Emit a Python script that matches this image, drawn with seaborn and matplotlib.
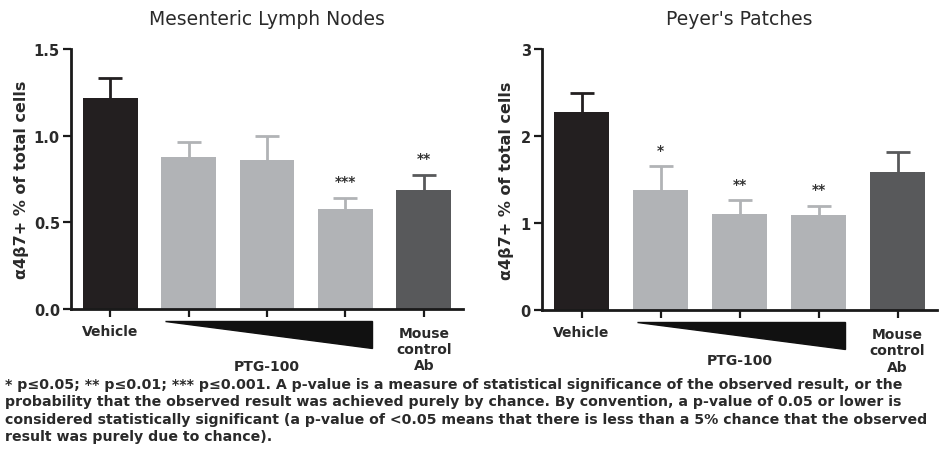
import matplotlib
matplotlib.use("Agg")
import matplotlib.pyplot as plt
import matplotlib.transforms as mt
from matplotlib.patches import Polygon
import seaborn as sns
import pandas as pd

# ---- data ----
categories = ["Vehicle", "PTG-100 low", "PTG-100 mid", "PTG-100 high", "Mouse control Ab"]
mln_mean = [1.22, 0.877, 0.857, 0.577, 0.688]
mln_err = [0.11, 0.085, 0.14, 0.065, 0.085]
pp_mean = [2.28, 1.38, 1.10, 1.09, 1.59]
pp_err = [0.21, 0.27, 0.16, 0.105, 0.23]
mln_stars = ["", "", "", "***", "**"]
pp_stars = ["", "*", "**", "**", ""]
mln_ticks = [0.0, 0.5, 1.0, 1.5]
mln_ticklabels = ["0.0", "0.5", "1.0", "1.5"]
pp_ticks = [0, 1, 2, 3]
pp_ticklabels = ["0", "1", "2", "3"]
titles = ["Mesenteric Lymph Nodes", "Peyer's Patches"]
ylabel = "α4β7+ % of total cells"
footnote = ("* p≤0.05; ** p≤0.01; *** p≤0.001. A p-value is a measure of statistical significance of the observed result, or the\n"
            "probability that the observed result was achieved purely by chance. By convention, a p-value of 0.05 or lower is\n"
            "considered statistically significant (a p-value of <0.05 means that there is less than a 5% chance that the observed\n"
            "result was purely due to chance).")

colors = ["#231f20", "#b1b3b6", "#b1b3b6", "#b1b3b6", "#58595b"]

sns.set_theme(style="ticks")
plt.rcParams["font.family"] = ["DejaVu Sans"]
TXT = "#2a2a2a"

fig = plt.figure(figsize=(9.43, 4.64), dpi=100)
ax1 = fig.add_axes([71 / 943, 1 - 310 / 464, (463 - 71) / 943, 260 / 464])
ax2 = fig.add_axes([542 / 943, 1 - 311 / 464, (937 - 542) / 943, 261 / 464])

panels = [
    (ax1, mln_mean, mln_err, mln_stars, mln_ticks, mln_ticklabels, (0, 1.5), titles[0], 22 - 71, -0.22),
    (ax2, pp_mean, pp_err, pp_stars, pp_ticks, pp_ticklabels, (0, 3), titles[1], 506 - 542, -0.19),
]

for ax, mean, err, stars, ticks, tlabels, ylim, title, ylab_dx, ptg_y in panels:
    df = pd.DataFrame({"group": categories, "value": mean})
    sns.barplot(data=df, x="group", y="value", hue="group", palette=colors,
                legend=False, width=0.7, ax=ax, saturation=1, linewidth=0, zorder=2)
    for i in range(len(categories)):
        ax.errorbar(i, mean[i], yerr=err[i], color=colors[i],
                    capsize=8.5, elinewidth=2, capthick=2, fmt="none", zorder=1)
        if stars[i]:
            ax.annotate(stars[i], xy=(i, mean[i] + err[i]), xytext=(0, 7),
                        textcoords="offset points", ha="center", va="bottom",
                        fontsize=10, fontweight="bold", color="#333333")
    ax.set_xlim(-0.5, 4.5)
    ax.set_ylim(*ylim)
    ax.set_yticks(ticks)
    ax.set_yticklabels(tlabels, fontsize=10.5, fontweight="bold", color=TXT)
    ax.set_xticks(range(len(categories)))
    ax.set_xticklabels([])
    ax.set_xlabel("")
    ax.set_ylabel("")
    ax.tick_params(axis="both", direction="out", length=6, width=1.6, color="#1a1a1a")
    ax.tick_params(axis="y", pad=2)
    for s in ["left", "bottom"]:
        ax.spines[s].set_linewidth(2)
        ax.spines[s].set_color("#1a1a1a")
    sns.despine(ax=ax)
    ax.set_title(title, fontsize=13.5, color=TXT, pad=18)
    off = mt.offset_copy(ax.transAxes, fig=fig, x=ylab_dx, y=0, units="dots")
    ax.text(0.0, 0.5, ylabel, transform=off, rotation=90,
            ha="center", va="center", fontsize=11.5, fontweight="bold", color=TXT)

    xt = ax.get_xaxis_transform()
    ax.text(0, -0.085, "Vehicle", transform=xt, ha="center", va="center",
            fontsize=10, fontweight="bold", color=TXT)
    ax.text(4, -0.155, "Mouse\ncontrol\nAb", transform=xt, ha="center", va="center",
            fontsize=10, fontweight="bold", color=TXT, linespacing=1.2)
    ax.text(2, ptg_y, "PTG-100", transform=xt, ha="center", va="center",
            fontsize=10, fontweight="bold", color=TXT)
    tri = Polygon([(0.70, -0.046), (3.34, -0.046), (3.34, -0.15)], closed=True,
                  transform=xt, facecolor="#111111", edgecolor="#111111",
                  clip_on=False)
    ax.add_patch(tri)

fig.text(5 / 943, 1 - 378 / 464, footnote, ha="left", va="top", fontsize=10.15,
         fontweight="bold", color=TXT, linespacing=1.3)

fig.savefig("out.png", dpi=100, facecolor="white")
